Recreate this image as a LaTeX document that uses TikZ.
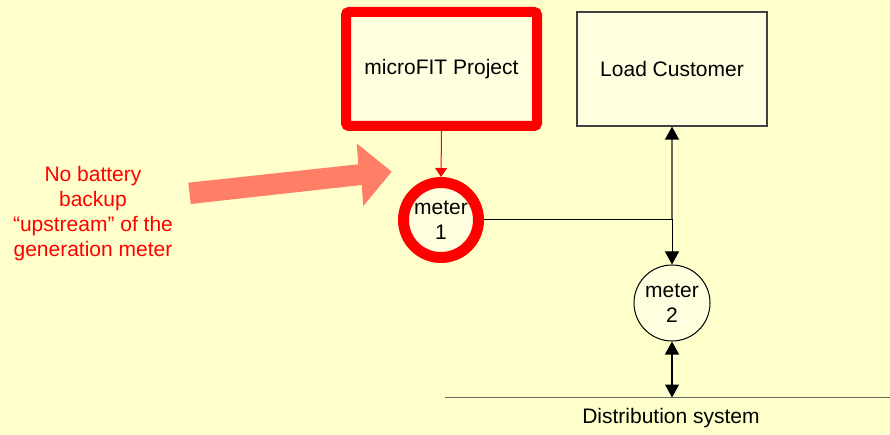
\documentclass[tikz,border=0pt]{standalone}
\usepackage{fontspec}
\setmainfont{Liberation Sans}
\usetikzlibrary{arrows.meta}
\definecolor{bg}{HTML}{FFFFCC}
\definecolor{boxfill}{HTML}{FFFFE0}
\definecolor{salmonarrow}{HTML}{FF7F66}
\definecolor{linegray}{HTML}{66665A}
\definecolor{boxline}{HTML}{404040}
\begin{document}
\begin{tikzpicture}[x=1pt,y=-1pt,
  every node/.style={font=\fontsize{21}{25}\selectfont},
  box/.style={draw=boxline, fill=boxfill, line width=1.2pt, minimum width=190pt, minimum height=114pt, inner sep=0pt},
  redbox/.style={box, draw=red, line width=10pt, minimum width=191pt, rounded corners=3pt},
  meter/.style={circle, draw=black, fill=boxfill, line width=1pt, minimum size=76pt, inner sep=0pt, align=center},
  redmeter/.style={meter, draw=red, line width=11pt, minimum size=75pt},
  conn/.style={black, line width=1.2pt},
  tip/.style={Triangle[length=13pt,width=14pt,color=black]},
  dbl/.style={conn, {Triangle[length=13pt,width=14pt]}-{Triangle[length=13pt,width=14pt]}},
  redconn/.style={red, line width=1pt, -{Triangle[length=9pt,width=12pt]}},
  note/.style={red, align=center, inner sep=0pt}
]
\fill[bg] (0,0) rectangle (890,435);
\useasboundingbox (0,0) rectangle (890,435);

% salmon pointer arrow
\fill[salmonarrow] (188.3,182.7) -- (358.3,164.3) -- (356.7,143.3) -- (391.7,171.7)
  -- (363.3,206) -- (361.7,185) -- (190.7,204) -- cycle;

\node[note] (txt) at (93,214) {No battery\\backup\\“upstream” of the\\generation meter};

\node[redbox] (mfit) at (441.5,69) {microFIT Project};
\node[box] (lc) at (672,69) {Load Customer};
\node[redmeter] (m1) at (441,220) {meter\\1};
\node[meter] (m2) at (672,303) {meter\\2};

\coordinate (dl) at (445,397.5);
\coordinate (dr) at (890,397.5);
\draw[linegray, line width=1.5pt] (dl) -- (dr);
\node[anchor=base, inner sep=0pt] (ds) at (671,423) {Distribution system};

\draw[redconn] (mfit.south) -- (m1.north);
\coordinate (j) at (m1.east -| lc.south);
\draw[linegray, line width=1.2pt, {Triangle[length=13pt,width=14pt,color=black]}-] (lc.south) -- (j);
\draw[conn, line width=1pt, -{Triangle[length=13pt,width=14pt]}] (m1.east) -- (j) -- (m2.north);
\coordinate (d) at (m2.south |- dl);
\draw[dbl] (m2.south) -- (d);
\end{tikzpicture}
\end{document}
